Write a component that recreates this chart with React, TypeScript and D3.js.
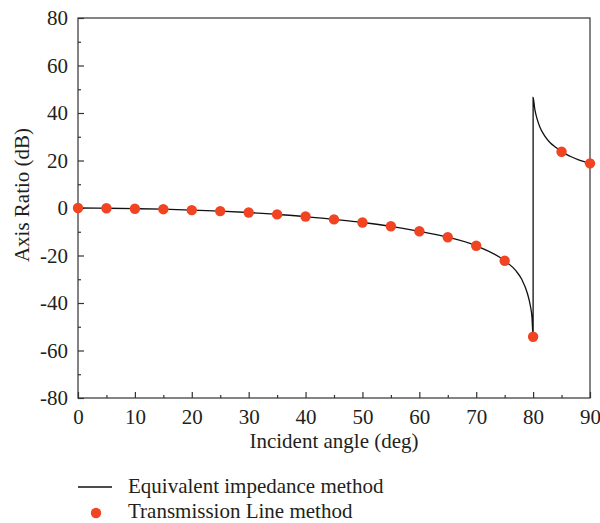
import React, { useEffect, useRef } from "react";
import * as d3 from "d3";

// Transmission Line method (dots)
const dotAngles = [0, 5, 10, 15, 20, 25, 30, 35, 40, 45, 50, 55, 60, 65, 70, 75, 80, 85, 90];
const dotValues = [0, -0.1, -0.3, -0.5, -0.9, -1.3, -1.9, -2.7, -3.6, -4.8, -6.1, -7.7, -9.8, -12.3, -15.9, -22.2, -54.2, 23.7, 18.8];

// Equivalent impedance method (line)
const lineAngles = [0, 5, 10, 15, 20, 25, 30, 35, 40, 45, 50, 55, 60, 65, 70, 75, 77, 78, 79, 79.5, 79.8, 80, 80, 80.3, 80.7, 81.2, 82, 83, 84, 85, 86.5, 88, 90];
const lineValues = [0, -0.1, -0.3, -0.5, -0.9, -1.3, -1.9, -2.7, -3.6, -4.8, -6.1, -7.7, -9.8, -12.3, -15.9, -22.2, -26.5, -30, -36, -41, -46, -54.2, 46.6, 41.5, 37.5, 34, 30.5, 27.5, 25.5, 23.7, 21.8, 20.3, 18.8];

const xTicks = [0, 10, 20, 30, 40, 50, 60, 70, 80, 90];
const yTicks = [-80, -60, -40, -20, 0, 20, 40, 60, 80];

const App = () => {
  const svgRef = useRef<SVGSVGElement>(null);

  useEffect(() => {
    const svg = d3.select(svgRef.current);
    svg.selectAll("*").remove();

    const font = "'Liberation Serif', 'Times New Roman', serif";
    const fontSize = 21;
    const textColor = "#231f20";
    const left = 78, right = 590, top = 18, bottom = 398;

    const x = d3.scaleLinear().domain([0, 90]).range([left, right]);
    const y = d3.scaleLinear().domain([-80, 80]).range([bottom, top]);

    // frame
    svg.append("rect")
      .attr("x", left).attr("y", top)
      .attr("width", right - left).attr("height", bottom - top)
      .attr("fill", "none").attr("stroke", "#333").attr("stroke-width", 1.2);

    // x axis (ticks inward)
    const xAxis = svg.append("g").attr("transform", `translate(0,${bottom})`)
      .call(d3.axisBottom(x).tickValues(xTicks).tickSize(-6).tickFormat((d) => String(d)));
    xAxis.select(".domain").remove();
    xAxis.selectAll(".tick text").attr("y", 26).attr("dy", 0);
    svg.append("g").attr("transform", `translate(0,${bottom})`)
      .call(d3.axisBottom(x).tickValues(d3.range(5, 90, 10)).tickSize(-3).tickFormat(() => ""))
      .select(".domain").remove();

    // y axis (ticks inward)
    const yAxis = svg.append("g").attr("transform", `translate(${left},0)`)
      .call(d3.axisLeft(y).tickValues(yTicks).tickSize(-6).tickPadding(10).tickFormat((d) => String(d)));
    yAxis.select(".domain").remove();
    svg.append("g").attr("transform", `translate(${left},0)`)
      .call(d3.axisLeft(y).tickValues(d3.range(-70, 80, 20)).tickSize(-3).tickFormat(() => ""))
      .select(".domain").remove();

    svg.selectAll(".tick line").attr("stroke", "#333").attr("stroke-width", 1.2);
    svg.selectAll(".tick text")
      .attr("font-family", font).attr("font-size", fontSize).attr("fill", textColor);

    // axis titles
    svg.append("text")
      .attr("x", 334).attr("y", 448)
      .attr("text-anchor", "middle")
      .attr("font-family", font).attr("font-size", fontSize).attr("fill", textColor)
      .text("Incident angle (deg)");
    svg.append("text")
      .attr("transform", `translate(29,195) rotate(-90)`)
      .attr("text-anchor", "middle")
      .attr("font-family", font).attr("font-size", fontSize).attr("fill", textColor)
      .text("Axis Ratio (dB)");

    // line
    const lineData = lineAngles.map((a, i) => [a, lineValues[i]] as [number, number]);
    svg.append("path")
      .datum(lineData)
      .attr("fill", "none").attr("stroke", "#111").attr("stroke-width", 1.3)
      .attr("d", d3.line<[number, number]>().x((d) => x(d[0])).y((d) => y(d[1])).curve(d3.curveMonotoneX));

    // dots
    svg.append("g").selectAll("circle")
      .data(dotAngles.map((a, i) => [a, dotValues[i]]))
      .enter().append("circle")
      .attr("cx", (d) => x(d[0])).attr("cy", (d) => y(d[1]))
      .attr("r", 5.2).attr("fill", "#f04423");

    // legend
    const legend = svg.append("g");
    legend.append("line")
      .attr("x1", 78).attr("x2", 112).attr("y1", 487).attr("y2", 487)
      .attr("stroke", "#111").attr("stroke-width", 1.3);
    legend.append("text")
      .attr("x", 128).attr("y", 493)
      .attr("font-family", font).attr("font-size", fontSize).attr("fill", textColor)
      .text("Equivalent impedance method");
    legend.append("circle")
      .attr("cx", 96).attr("cy", 513).attr("r", 5.2).attr("fill", "#f04423");
    legend.append("text")
      .attr("x", 128).attr("y", 518)
      .attr("font-family", font).attr("font-size", fontSize).attr("fill", textColor)
      .text("Transmission Line method");
  }, []);

  return (
    <svg
      ref={svgRef}
      width={600}
      height={523}
      style={{ position: "absolute", left: 0, top: 0, background: "#fff" }}
    ></svg>
  );
};

export default App;
